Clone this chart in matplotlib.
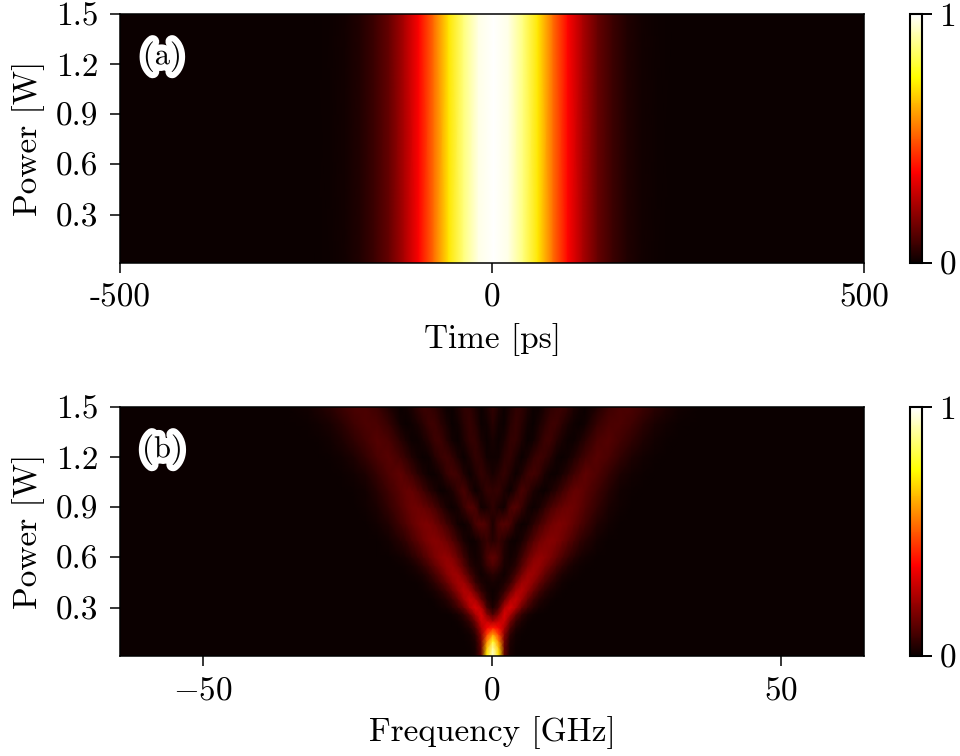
import numpy as np
import matplotlib
matplotlib.use('Agg')
import matplotlib.pyplot as plt
import matplotlib.patheffects as pe

plt.rcParams['font.family'] = ['cmr10']
plt.rcParams['mathtext.fontset'] = 'cm'
plt.rcParams['axes.unicode_minus'] = False
plt.rcParams['font.size'] = 24

# panel (a): pulse shape, same at all powers
time_ps = [0, 20, 40, 60, 80, 100, 120, 140, 160, 180, 200, 220, 240, 260, 300, 520]
pulse = [1, .975, .87, .71, .53, .37, .24, .14, .075, .035, .014, .005, .002, 0, 0, 0]
power_a = [0.01, 1.5]
peak_ps = 2

# panel (b): spectrum read row by row, positive frequencies only
freq_ghz = list(range(17)) + [18, 20, 22, 24, 26, 28, 30, 32, 36, 70]
power_b = [.01, .06, .10, .14, .18, .22, .26, .30, .35, .40, .45, .50, .55, .60,
           .70, .80, .90, 1.0, 1.1, 1.2, 1.3, 1.4, 1.5]
spectrum = [
    [.95, .72, .13, .02, .004],
    [.90, .66, .14, .025, .005],
    [.78, .56, .16, .035, .008, .002],
    [.60, .45, .19, .055, .015, .004],
    [.40, .35, .24, .10, .035, .012, .003],
    [.23, .28, .29, .16, .07, .03, .01, .003],
    [.10, .18, .31, .24, .13, .06, .025, .01, .003],
    [.03, .09, .25, .31, .24, .14, .08, .04, .018, .008, .003],
    [.01, .04, .13, .24, .28, .22, .14, .08, .04, .02, .008, .003],
    [.005, .02, .06, .14, .23, .25, .20, .14, .085, .05, .025, .012, .005, .002],
    [.02, .015, .03, .07, .15, .22, .23, .19, .135, .09, .055, .03, .015, .007, .003],
    [.05, .03, .01, .04, .09, .16, .215, .215, .18, .13, .09, .055, .03, .017, .008, .004],
    [.10, .07, .02, .02, .05, .11, .17, .21, .205, .17, .13, .09, .06, .035, .018, .009, .004],
    [.13, .09, .03, .012, .03, .08, .135, .18, .205, .195, .165, .13, .095, .065, .04, .022, .012, .002],
    [.04, .07, .04, .01, .005, .025, .07, .11, .15, .175, .185, .175, .15, .12, .09, .06, .04, .012, .003],
    [.03, .09, .115, .09, .03, .005, .015, .05, .085, .12, .15, .17, .17, .155, .13, .105, .08, .035, .012, .003],
    [.055, .025, .015, .09, .11, .07, .02, .004, .02, .055, .09, .12, .14, .15, .145, .125, .105, .06, .025, .008, .002],
    [.06, .065, .03, .005, .05, .095, .07, .03, .008, .003, .025, .05, .08, .11, .135, .135, .12, .08, .04, .015, .005, .001],
    [.02, .045, .065, .035, .004, .035, .075, .088, .065, .025, .005, .005, .025, .05, .08, .105, .125, .105, .065, .03, .012, .004, .001],
    [.01, .015, .05, .06, .03, .002, .025, .06, .08, .07, .04, .01, .002, .012, .035, .06, .085, .115, .095, .06, .03, .012, .004, .001],
    [.02, .005, .025, .06, .06, .03, .003, .015, .045, .075, .075, .045, .02, .004, .004, .025, .05, .095, .11, .085, .055, .028, .012, .004, .001],
    [.045, .015, .005, .045, .065, .045, .012, .003, .025, .05, .075, .075, .05, .025, .008, .002, .015, .065, .095, .10, .08, .05, .027, .012, .005, .001],
    [.06, .03, .004, .03, .058, .058, .03, .004, .006, .03, .052, .07, .075, .058, .03, .012, .002, .035, .075, .095, .095, .075, .05, .028, .014, .002],
]
W, H = 960, 756


def mirror(v):
    v = np.array(v, dtype=float)
    return np.concatenate([v[:0:-1], v])


fig = plt.figure(figsize=(W / 100, H / 100), dpi=100)


def make_ax(x0, x1, y0, y1):
    return fig.add_axes([x0 / W, 1 - y1 / H, (x1 - x0) / W, (y1 - y0) / H])


ax1 = make_ax(120, 864, 14, 263)
ax2 = make_ax(120, 864, 407, 656)
cax1 = make_ax(910, 922, 14, 263)
cax2 = make_ax(910, 922, 407, 656)

t = np.concatenate([-np.array(time_ps[:0:-1]), time_ps]) + peak_ps
z1 = np.tile(mirror(pulse), (len(power_a), 1))
m1 = ax1.pcolormesh(t, power_a, z1, shading='gouraud', cmap='hot', vmin=0, vmax=1)

f = np.concatenate([-np.array(freq_ghz[:0:-1]), freq_ghz]) + 0.15
rows = [mirror(r + [0] * (len(freq_ghz) - len(r))) for r in spectrum]
m2 = ax2.pcolormesh(f, power_b, np.array(rows), shading='gouraud', cmap='hot', vmin=0, vmax=1)

ax1.set_xlim(-500, 500)
ax1.set_xticks([-500, 0, 500])
ax1.set_xticklabels(['-500', '0', '500'])
ax1.set_xlabel('Time [ps]', labelpad=8)

ax2.set_xlim(-64.3, 64.3)
ax2.set_xticks([-50, 0, 50])
ax2.set_xticklabels(['$-50$', '$0$', '$50$'])
ax2.set_xlabel('Frequency [GHz]', labelpad=8)

for ax, name in zip([ax1, ax2], ['(a)', '(b)']):
    ax.set_ylim(0.01, 1.5)
    ax.set_yticks([0.3, 0.6, 0.9, 1.2, 1.5])
    ax.set_yticklabels(['0.3', '0.6', '0.9', '1.2', '1.5'])
    ax.set_ylabel('Power [W]')
    ax.yaxis.set_label_coords(-75 / 744, 0.5)
    ax.tick_params(axis='x', length=7.5, width=1.1, pad=7)
    ax.tick_params(axis='y', length=7.5, width=1.1, pad=8)
    for s in ax.spines.values():
        s.set_linewidth(1.1)
    ax.text(0.057, 0.828, name, transform=ax.transAxes, ha='center', va='center', fontsize=22,
            path_effects=[pe.withStroke(linewidth=9, foreground='white')])

for m, cax in zip([m1, m2], [cax1, cax2]):
    cb = fig.colorbar(m, cax=cax, ticks=[0, 1])
    cb.ax.set_yticklabels(['0', '1'])
    cb.ax.tick_params(length=7.5, width=1.4, pad=5)
    cb.outline.set_linewidth(1.5)

fig.savefig('out.png', dpi=100)
